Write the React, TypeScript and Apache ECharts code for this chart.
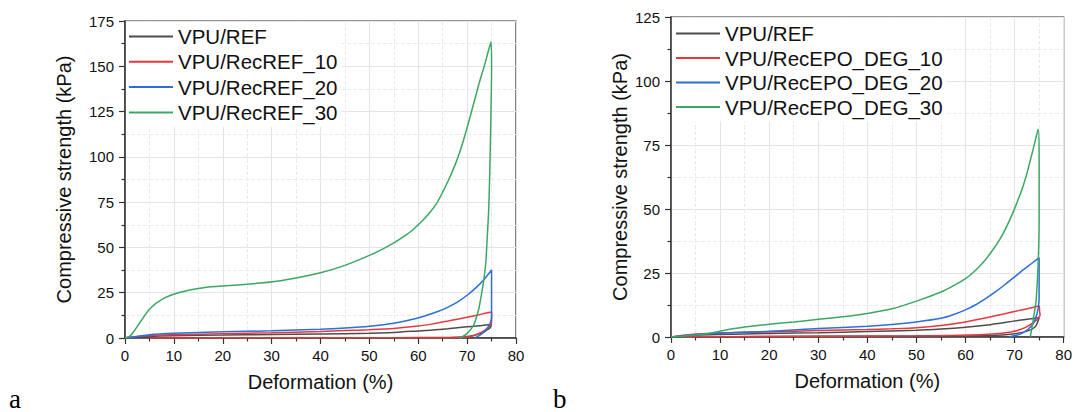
import React, { useEffect, useRef } from "react";
import * as echarts from "echarts";

// ---------- data (deformation %, compressive strength kPa) ----------
const leftNames = ["VPU/REF", "VPU/RecREF_10", "VPU/RecREF_20", "VPU/RecREF_30"];
const rightNames = ["VPU/REF", "VPU/RecEPO_DEG_10", "VPU/RecEPO_DEG_20", "VPU/RecEPO_DEG_30"];

const leftRef: number[][] = [
  [0, 0], [2, 0.5], [5, 1.0], [10, 1.3], [20, 1.6], [30, 1.9], [40, 2.2], [50, 2.6],
  [55, 3.1], [60, 3.9], [63, 4.4], [66, 5.1], [69, 5.9], [71, 6.4], [73, 6.9], [75, 7.5],
  [74.7, 5.6], [74, 4.3], [73.3, 3.2], [72.3, 2.2], [71.3, 1.4], [69, 0.6],
  [65.8, 0.3], [55, 0.2], [40, 0.15], [20, 0.1], [5, 0],
];
const leftR10: number[][] = [
  [0, 0], [2, 0.7], [5, 1.4], [10, 1.8], [20, 2.4], [30, 2.9], [40, 3.6], [45, 4.1],
  [50, 4.6], [55, 5.3], [60, 6.6], [63, 7.8], [66, 9.3], [68, 10.4], [70, 11.5],
  [72, 12.6], [73.5, 13.5], [75, 14.4],
  [75, 10.0], [75, 8.7], [74, 5.1], [72.6, 2.7], [70.6, 0.8], [65.8, 0.2],
  [50, 0.15], [30, 0.1], [10, 0.05], [5, 0],
];
const leftR20: number[][] = [
  [0, 0], [2, 0.6], [5, 1.8], [10, 2.6], [20, 3.4], [30, 4.0], [40, 4.8], [45, 5.5],
  [50, 6.5], [55, 8.2], [58, 9.8], [61, 11.9], [64, 14.6], [66, 16.9], [68, 19.8],
  [70, 23.6], [72, 28.2], [73.5, 32.4], [75, 37.5],
  [75, 25], [75, 11.5], [74.3, 6.0], [73, 2.3], [71.6, 0],
];
const leftR30: number[][] = [
  [0, 0], [1, 1], [1.7, 3.2], [3.1, 8.7], [5.1, 16.1], [7.8, 21.7], [11.3, 25.3],
  [16, 27.8], [21.5, 29], [27.6, 30.3], [33, 32.2], [40, 36], [45, 40.1], [50, 45.6],
  [53, 49.5], [55, 52.5], [57, 56], [58.8, 59.5], [60.5, 63.8], [62, 68], [63.7, 74],
  [65, 80.5], [66.5, 89], [67.6, 96], [68.6, 103.5], [69.4, 110.5], [70.2, 118], [71, 126],
  [71.8, 134], [72.6, 142], [73.5, 150], [74.3, 158], [74.9, 163.5],
  [75, 150], [74.8, 113], [74.6, 88], [74.4, 70], [74.1, 55], [73.8, 41], [73.3, 30],
  [72.8, 22], [72.3, 15.2], [71.3, 6.9], [69.9, 2.3], [68.5, 0],
];

const rightRef: number[][] = [
  [0, 0], [5, 0.7], [10, 1.0], [20, 1.4], [30, 1.7], [40, 2.1], [50, 2.6], [55, 3.1],
  [60, 3.8], [64, 4.6], [68, 5.7], [71, 6.5], [73, 7.0], [75, 7.6],
  [74.2, 4.0], [72.2, 2.1], [67.5, 0.8], [60, 0.4], [40, 0.3], [20, 0.2], [5, 0],
];
const rightR10: number[][] = [
  [0, 0], [3, 0.8], [5, 1.2], [10, 1.6], [20, 2.0], [30, 2.5], [40, 2.9], [45, 3.2],
  [50, 3.6], [55, 4.5], [60, 5.9], [64, 7.4], [68, 9.1], [71, 10.4], [73, 11.2], [75, 12.1],
  [75.1, 10], [75.2, 8.6], [73.6, 5.3], [70.9, 2.7], [67.5, 1.5], [60.7, 0.8],
  [50, 0.5], [30, 0.3], [10, 0.1], [3, 0],
];
const rightR20: number[][] = [
  [0, 0], [5, 1.0], [10, 1.6], [20, 2.2], [30, 3.3], [40, 4.2], [45, 4.9], [50, 5.9],
  [55, 7.3], [57.3, 8.6], [60, 10.6], [62, 12.5], [64.1, 15.0], [66, 17.5], [68, 20.4],
  [70.2, 23.8], [72, 26.6], [73.6, 28.9], [75, 31],
  [75, 25], [75, 15], [74.6, 9.3], [73.6, 4.7], [71.5, 1.4], [68.8, 0],
];
const rightR30: number[][] = [
  [0, 0], [4.6, 0.7], [8, 1.5], [9.8, 2.2], [12, 3.0], [15, 3.9], [20, 5.0], [25, 5.9],
  [30, 6.9], [35, 7.9], [40, 9.2], [45, 11], [50, 14.0], [55, 17.6], [57.5, 20],
  [60, 22.8], [62, 26], [63.4, 28.7], [65, 32.5], [66.9, 37.8], [68.3, 42.8],
  [69.6, 48.3], [70.7, 53.5], [71.7, 58.7], [72.6, 64.5], [73.4, 70.5], [74.2, 76.5],
  [74.8, 81.2],
  [75, 70], [75, 50], [74.9, 34], [74.4, 14.5], [73.9, 7.9], [73.2, 0],
];

const colors = ["#4d4d4d", "#e8383d", "#2a6fdb", "#3aa862"];
const FONT = "'Liberation Sans', Arial, sans-serif";

function xAxisCfg(gridIndex: number) {
  return {
    type: "value",
    gridIndex,
    min: 0,
    max: 80,
    interval: 10,
    name: "Deformation (%)",
    nameLocation: "middle",
    nameGap: 34,
    nameTextStyle: { fontSize: 20, color: "#111", fontFamily: FONT },
    axisLine: { show: true, onZero: false, lineStyle: { color: "#333", width: 1.5 } },
    axisTick: { show: true, inside: false, length: 6, lineStyle: { color: "#333", width: 1.2 } },
    minorTick: { show: true, splitNumber: 2, length: 3.5, lineStyle: { color: "#333", width: 1.2 } },
    axisLabel: { fontSize: 15, color: "#111", fontFamily: FONT, margin: 10 },
    splitLine: { show: true, lineStyle: { color: "#e4e4e4", width: 1 } },
    minorSplitLine: { show: true, lineStyle: { color: "#ebebeb", width: 1, type: "dashed" } },
  };
}

function yAxisCfg(gridIndex: number, max: number, nameGap: number) {
  return {
    type: "value",
    gridIndex,
    min: 0,
    max,
    interval: 25,
    name: "Compressive strength (kPa)",
    nameLocation: "middle",
    nameGap,
    nameTextStyle: { fontSize: 20, color: "#111", fontFamily: FONT },
    axisLine: { show: true, onZero: false, lineStyle: { color: "#333", width: 1.5 } },
    axisTick: { show: true, inside: false, length: 6, lineStyle: { color: "#333", width: 1.2 } },
    minorTick: { show: true, splitNumber: 2, length: 3.5, lineStyle: { color: "#333", width: 1.2 } },
    axisLabel: { fontSize: 15, color: "#111", fontFamily: FONT, margin: 11 },
    splitLine: { show: true, lineStyle: { color: "#e4e4e4", width: 1 } },
    minorSplitLine: { show: true, lineStyle: { color: "#ebebeb", width: 1, type: "dashed" } },
  };
}

function mkSeries(name: string, data: number[][], idx: number, color: string) {
  return {
    type: "line",
    name,
    data,
    xAxisIndex: idx,
    yAxisIndex: idx,
    showSymbol: false,
    symbol: "none",
    smooth: 0.3,
    lineStyle: { color, width: 1.5 },
    itemStyle: { color },
    z: 3,
  };
}

export default function App() {
  const ref = useRef<HTMLDivElement>(null);
  useEffect(() => {
    if (!ref.current) return;
    const chart = echarts.init(ref.current, undefined, { renderer: "svg" });
    const leftData = [leftRef, leftR10, leftR20, leftR30];
    const rightData = [rightRef, rightR10, rightR20, rightR30];
    const legendCommon = {
      orient: "vertical",
      itemWidth: 44,
      itemHeight: 14,
      backgroundColor: "#ffffff",
      textStyle: { fontSize: 20.5, lineHeight: 20, color: "#111", fontFamily: FONT },
      selectedMode: false,
      z: 5,
    };
    chart.setOption({
      animation: false,
      backgroundColor: "#ffffff",
      grid: [
        { left: 125, top: 21, width: 391, height: 317, show: true, borderColor: "#333", borderWidth: 1.2, containLabel: false },
        { left: 671, top: 17, width: 394, height: 320, show: true, borderColor: "#333", borderWidth: 1.2, containLabel: false },
      ],
      xAxis: [xAxisCfg(0), xAxisCfg(1)],
      yAxis: [yAxisCfg(0, 175, 51), yAxisCfg(1, 125, 41)],
      legend: [
        {
          ...legendCommon,
          left: 126,
          top: 22,
          padding: [4, 4, 4, 2],
          itemGap: 4.3,
          data: leftNames.map((n) => ({ name: n, itemStyle: { color: "none", borderColor: "none" } })),
        },
        {
          ...legendCommon,
          left: 672,
          top: 18,
          padding: [5, 4, 4, 3],
          itemGap: 3.5,
          data: rightNames.map((n) => ({ name: n, itemStyle: { color: "none", borderColor: "none" } })),
        },
      ],
      graphic: [
        { type: "text", x: 9, y: 398.5, style: { text: "a", font: "27px 'Liberation Serif', 'Times New Roman', serif", fill: "#000", verticalAlign: "middle" } },
        { type: "text", x: 553, y: 398.5, style: { text: "b", font: "27px 'Liberation Serif', 'Times New Roman', serif", fill: "#000", verticalAlign: "middle" } },
      ],
      series: [
        ...leftNames.map((n, i) => mkSeries(n, leftData[i], 0, colors[i])),
        ...rightNames.map((n, i) => mkSeries(n, rightData[i], 1, colors[i])),
      ],
    });
    return () => chart.dispose();
  }, []);
  return (
    <div
      ref={ref}
      style={{ position: "absolute", left: 0, top: 0, width: 1075, height: 412 }}
    />
  );
}
